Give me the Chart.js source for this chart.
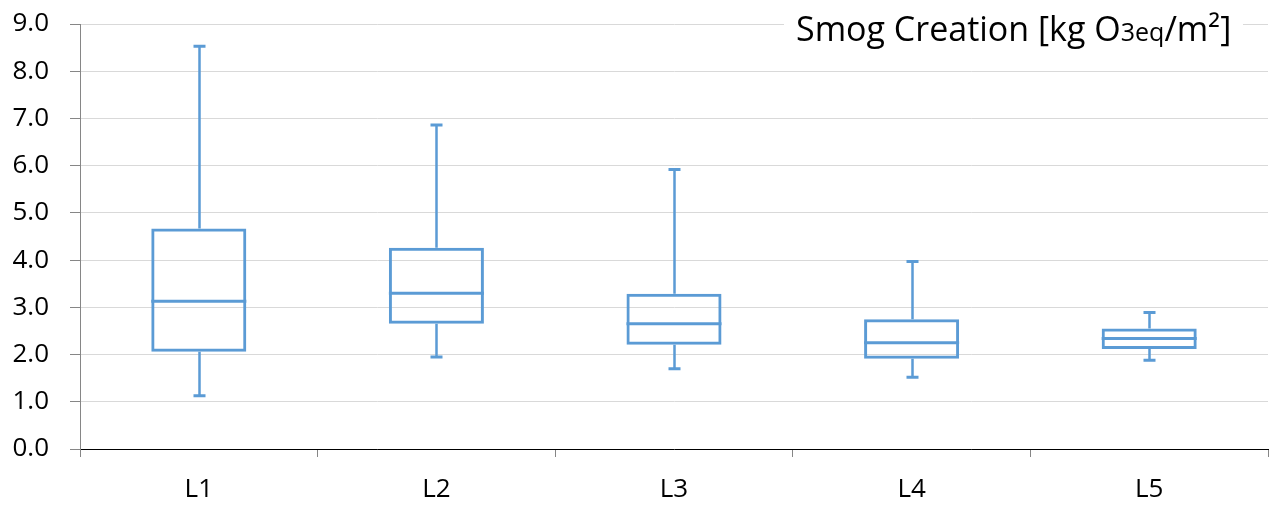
<!DOCTYPE html>
<html>
<head>
<meta charset="utf-8">
<script src="https://cdn.jsdelivr.net/npm/chart.js@4.4.0/dist/chart.umd.min.js"></script>
<style>
  html, body { margin: 0; padding: 0; background: #fff; }
  #wrap { position: relative; width: 1272px; height: 505px; }
  #title {
    position: absolute; top: 6px; left: 784px; padding: 0 12px;
    background: #fff; color: #000;
    font-family: "Open Sans", sans-serif; font-size: 34px; line-height: 44px;
    white-space: nowrap;
  }
  #title .sm { font-size: 25px; }
</style>
</head>
<body>
<div id="wrap">
  <canvas id="chart" width="1272" height="505"></canvas>
  <div id="title">Smog Creation [kg O<span class="sm">3eq</span>/m²]</div>
</div>
<script>
// box plot values
const categories = ['L1', 'L2', 'L3', 'L4', 'L5'];
const minVals    = [1.13, 1.95, 1.70, 1.52, 1.88];
const q1Vals     = [2.06, 2.65, 2.21, 1.91, 2.12];
const medianVals = [3.13, 3.30, 2.65, 2.25, 2.34];
const q3Vals     = [4.67, 4.26, 3.29, 2.75, 2.55];
const maxVals    = [8.53, 6.86, 5.92, 3.97, 2.89];
const yTicks     = [0, 1, 2, 3, 4, 5, 6, 7, 8, 9];

const blue = '#5B9BD5';
const font = { family: '"Open Sans", sans-serif', size: 26 };

// whiskers, caps and median line, placed through the chart scales
const boxExtras = {
  id: 'boxExtras',
  afterDatasetsDraw(chart) {
    const ctx = chart.ctx;
    const x = chart.scales.x, y = chart.scales.y;
    const meta = chart.getDatasetMeta(0);
    ctx.save();
    ctx.strokeStyle = blue;
    categories.forEach((c, i) => {
      const cx = Math.round(x.getPixelForValue(i)) + 0.5;
      const bar = meta.data[i];
      const half = bar.width / 2;
      const cap = 6;
      // whiskers
      ctx.lineWidth = 2.5;
      ctx.beginPath();
      ctx.moveTo(cx, y.getPixelForValue(q3Vals[i]));
      ctx.lineTo(cx, y.getPixelForValue(maxVals[i]));
      ctx.moveTo(cx, y.getPixelForValue(q1Vals[i]));
      ctx.lineTo(cx, y.getPixelForValue(minVals[i]));
      ctx.stroke();
      // caps
      ctx.lineWidth = 3;
      ctx.beginPath();
      ctx.moveTo(cx - cap, y.getPixelForValue(maxVals[i]));
      ctx.lineTo(cx + cap, y.getPixelForValue(maxVals[i]));
      ctx.moveTo(cx - cap, y.getPixelForValue(minVals[i]));
      ctx.lineTo(cx + cap, y.getPixelForValue(minVals[i]));
      ctx.stroke();
      // median
      ctx.beginPath();
      ctx.moveTo(bar.x - half, y.getPixelForValue(medianVals[i]));
      ctx.lineTo(bar.x + half, y.getPixelForValue(medianVals[i]));
      ctx.stroke();
    });
    ctx.restore();
  }
};

new Chart(document.getElementById('chart'), {
  type: 'bar',
  data: {
    labels: categories,
    datasets: [{
      data: categories.map((c, i) => [q1Vals[i], q3Vals[i]]),
      backgroundColor: 'rgba(0,0,0,0)',
      borderColor: blue,
      borderWidth: 3,
      borderSkipped: false,
      barPercentage: 0.4,
      categoryPercentage: 1
    }]
  },
  options: {
    responsive: false,
    animation: false,
    layout: { padding: { top: 24, right: 4, left: 0, bottom: 0 } },
    plugins: { legend: { display: false }, tooltip: { enabled: false }, title: { display: false } },
    scales: {
      x: {
        grid: { drawOnChartArea: false, drawTicks: true, tickLength: 8, tickColor: '#868686', offset: true },
        border: { color: '#000', width: 1 },
        ticks: { color: '#000', font: font, padding: 17 },
        afterFit(s) { s.height = 56; s.paddingLeft = 0; s.paddingRight = 0; }
      },
      y: {
        min: 0, max: 9,
        afterBuildTicks(s) { s.ticks = yTicks.map(v => ({ value: v })); },
        grid: { color: '#d9d9d9', lineWidth: 1, tickLength: 10, tickColor: '#868686' },
        border: { color: '#868686', width: 1 },
        ticks: { color: '#000', font: font, padding: 21, callback: v => v.toFixed(1) },
        afterFit(s) { s.width = 80; s.paddingTop = 0; s.paddingBottom = 0; }
      }
    }
  },
  plugins: [boxExtras]
});
</script>
</body>
</html>
